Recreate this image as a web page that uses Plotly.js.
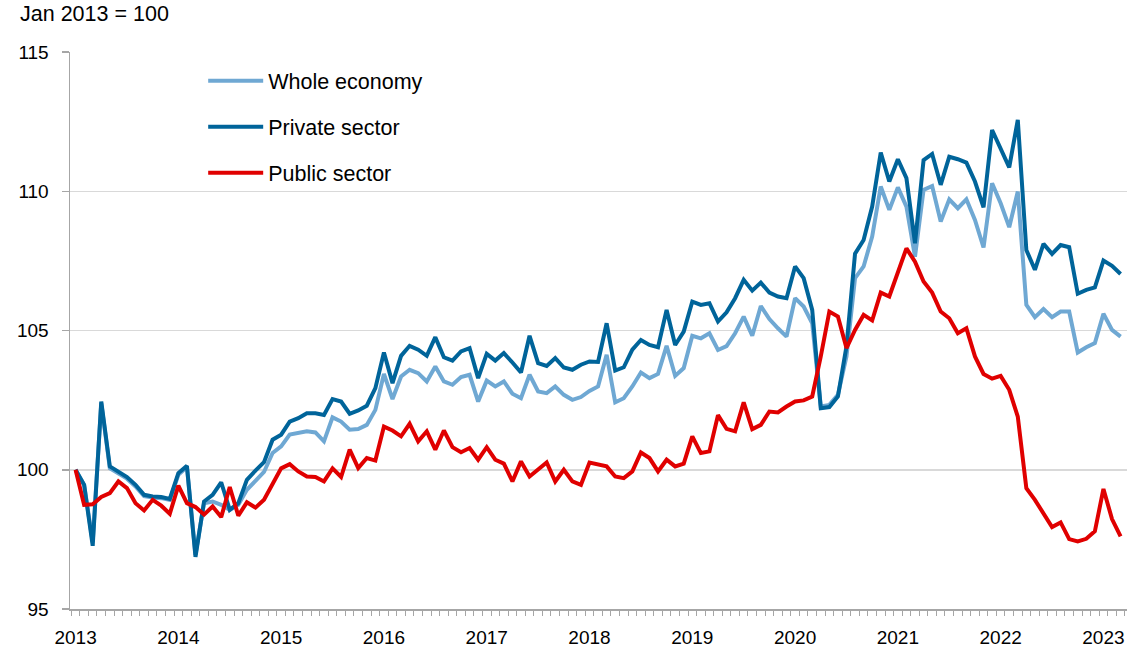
<!DOCTYPE html>
<html>
<head>
<meta charset="utf-8">
<script src="https://cdn.plot.ly/plotly-3.0.1.min.js"></script>
<style>html,body{margin:0;padding:0;background:#fff;}#chart{width:1136px;height:653px;}</style>
</head>
<body>
<div id="chart"></div>
<script>
// Monthly index, Jan 2013 = 100 (Jan 2013 .. Mar 2023)
const yearLabels = ["2013","2014","2015","2016","2017","2018","2019","2020","2021","2022","2023"];

const wholeEconomy = [
100.0,99.46,97.4,102.4,100.05,99.88,99.68,99.40,99.05,99.00,98.98,98.92,
99.82,100.10,96.95,98.80,98.86,98.74,98.56,98.74,99.28,99.60,99.92,100.6,
100.84,101.26,101.32,101.38,101.34,101.02,101.88,101.73,101.44,101.46,101.61,102.15,
103.44,102.54,103.35,103.59,103.47,103.17,103.71,103.17,103.05,103.33,103.41,102.45,
103.20,102.99,103.17,102.73,102.57,103.41,102.81,102.75,102.99,102.69,102.51,102.61,
102.83,102.99,104.13,102.42,102.57,102.99,103.49,103.29,103.44,104.45,103.37,103.65,
104.81,104.72,104.90,104.30,104.44,104.90,105.50,104.81,105.88,105.41,105.08,104.78,
106.16,105.86,105.26,102.27,102.33,102.69,104.07,106.88,107.30,108.37,110.17,109.33,
110.14,109.45,107.65,110.05,110.19,108.91,109.71,109.39,109.71,108.97,107.98,110.29,
109.57,108.71,109.99,105.92,105.48,105.77,105.48,105.68,105.68,104.21,104.40,104.55,
105.60,105.02,104.78];

const privateSector = [
100.0,99.46,97.27,102.45,100.12,99.94,99.74,99.46,99.10,99.04,99.02,98.95,
99.88,100.14,96.87,98.86,99.10,99.55,98.56,98.80,99.64,99.97,100.27,101.08,
101.26,101.73,101.85,102.03,102.03,101.97,102.54,102.45,102.01,102.13,102.30,102.93,
104.21,103.11,104.09,104.45,104.31,104.09,104.76,104.04,103.92,104.25,104.37,103.29,
104.16,103.92,104.19,103.85,103.49,104.81,103.83,103.73,104.01,103.67,103.59,103.77,
103.89,103.87,105.26,103.56,103.68,104.31,104.66,104.48,104.40,105.74,104.48,104.96,
106.04,105.92,105.98,105.32,105.65,106.16,106.82,106.43,106.72,106.36,106.22,106.16,
107.30,106.88,105.74,102.21,102.25,102.63,104.43,107.76,108.25,109.45,111.39,110.35,
111.15,110.47,108.13,111.12,111.34,110.23,111.24,111.15,111.03,110.35,109.42,112.20,
111.54,110.86,112.56,107.89,107.18,108.11,107.75,108.07,107.99,106.32,106.46,106.55,
107.51,107.32,107.03];

const publicSector = [
100.0,98.74,98.76,99.02,99.16,99.58,99.34,98.80,98.54,98.92,98.71,98.42,
99.43,98.80,98.66,98.39,98.68,98.30,99.38,98.35,98.83,98.64,98.92,99.45,
100.05,100.20,99.94,99.76,99.74,99.58,100.05,99.74,100.72,100.06,100.42,100.33,
101.55,101.41,101.20,101.65,101.02,101.38,100.72,101.41,100.81,100.63,100.78,100.36,
100.81,100.36,100.22,99.58,100.30,99.76,100.00,100.26,99.58,100.00,99.58,99.46,
100.26,100.20,100.12,99.76,99.70,99.94,100.62,100.42,99.94,100.36,100.12,100.22,
101.20,100.60,100.66,101.96,101.47,101.38,102.42,101.46,101.61,102.09,102.06,102.27,
102.45,102.49,102.63,104.07,105.68,105.50,104.37,105.02,105.56,105.36,106.36,106.22,
107.12,107.95,107.47,106.76,106.36,105.68,105.44,104.90,105.08,104.07,103.44,103.27,
103.37,102.87,101.91,99.34,98.92,98.42,97.94,98.11,97.51,97.43,97.52,97.79,
99.31,98.23,97.61];

const monthIndex = wholeEconomy.map((_, i) => i);
const yearTickPos = yearLabels.map((_, k) => k * 12);

const FONT = '"Liberation Sans", Arial, sans-serif';

const traces = [
  {x: monthIndex, y: wholeEconomy, name: 'Whole economy', type: 'scatter', mode: 'lines',
   line: {color: '#6fa8d3', width: 4}, legendgroup: 'a'},
  {x: monthIndex, y: privateSector, name: 'Private sector', type: 'scatter', mode: 'lines',
   line: {color: '#00649a', width: 4}, legendgroup: 'b'},
  {x: monthIndex, y: publicSector, name: 'Public sector', type: 'scatter', mode: 'lines',
   line: {color: '#e00000', width: 4}, legendgroup: 'c'}
];

const layout = {
  width: 1136, height: 653,
  margin: {l: 70, r: 9, t: 52, b: 44},
  paper_bgcolor: '#ffffff', plot_bgcolor: '#ffffff',
  font: {family: FONT, size: 19, color: '#000000'},
  title: {text: 'Jan 2013 = 100', x: 20/1136, xanchor: 'left', xref: 'container',
          y: 1 - 6/653, yanchor: 'top', yref: 'container',
          font: {family: FONT, size: 21.5, color: '#000000'}},
  showlegend: true,
  legend: {x: 0.126, y: 0.985, xanchor: 'left', yanchor: 'top',
           bgcolor: 'rgba(0,0,0,0)', font: {family: FONT, size: 21.5, color: '#000'},
           traceorder: 'grouped', tracegroupgap: 15, itemwidth: 55},
  xaxis: {
    range: [-0.65, 122.75], showgrid: false, zeroline: false,
    showline: true, linecolor: '#a6a6a6', linewidth: 1.5,
    tickmode: 'array', tickvals: yearTickPos, ticktext: yearLabels,
    ticks: 'outside', ticklen: 0, tickcolor: '#a6a6a6',
    ticklabelstandoff: 11,
    tickfont: {family: FONT, size: 19, color: '#000'},
    minor: {tickmode: 'linear', tick0: -0.5, dtick: 1, ticks: 'outside', ticklen: 5,
            tickcolor: '#a6a6a6', tickwidth: 1, showgrid: false}
  },
  yaxis: {
    range: [95, 115], tickmode: 'array', tickvals: [95, 100, 105, 110, 115],
    showgrid: true, gridcolor: '#d9d9d9', gridwidth: 1.5, zeroline: false,
    showline: true, linecolor: '#a6a6a6', linewidth: 1.5,
    ticks: 'outside', ticklen: 7, tickcolor: '#a6a6a6', tickwidth: 1.5,
    ticklabelstandoff: 9,
    tickfont: {family: FONT, size: 19, color: '#000'}
  }
};

Plotly.newPlot('chart', traces, layout, {displayModeBar: false, staticPlot: true});
</script>
</body>
</html>
